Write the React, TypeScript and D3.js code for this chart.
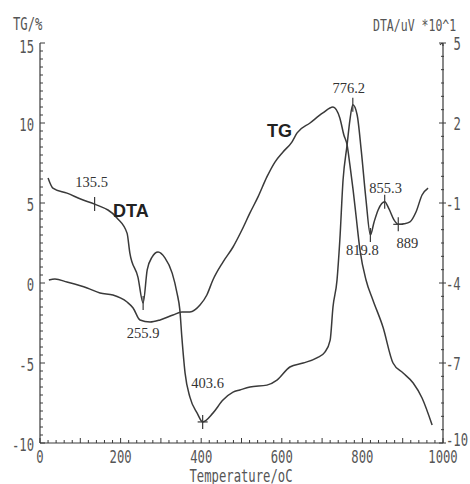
import React from "react";
import * as d3 from "d3";

// Thermal analysis of the sample: TG (mass change, left axis) and DTA (right axis)
const tempTicks = [0, 200, 400, 600, 800, 1000];
const tgTicks = [15, 10, 5, 0, -5, -10];
const dtaTicks = [5, 2, -1, -4, -7, -10];

const tgTemp = [
  22, 37, 67, 117, 149, 181, 216, 231, 248, 273, 298, 330, 352, 372, 397, 414, 429,
  454, 479, 501, 521, 541, 563, 583, 603, 625, 638, 670, 702, 727, 744, 754, 762,
  769, 777, 784, 794, 809, 826, 851, 876, 901, 926, 948, 973,
];
const tgMass = [
  0.19, 0.25, 0.06, -0.31, -0.63, -0.75, -1.19, -1.56, -2.31, -2.44, -2.31, -2.0,
  -1.81, -1.81, -1.38, -0.75, 0.19, 1.31, 2.25, 3.31, 4.38, 5.38, 6.63, 7.56, 8.19,
  8.81, 9.38, 10.0, 10.63, 11.0, 10.31, 9.25, 8.63, 7.38, 5.81, 4.25, 2.06, 0.19,
  -1.06, -2.75, -5.0, -5.63, -6.25, -7.19, -8.88,
];

const dtaTemp = [
  20, 32, 67, 107, 135.5, 191, 216, 223, 243, 255.9, 266, 278, 293, 310, 328, 340,
  347, 352, 360, 372, 390, 403.6, 429, 454, 479, 496, 521, 563, 588, 620, 653, 687,
  707, 720, 727, 737, 744, 752, 762, 769, 776.2, 787, 797, 809, 819.8, 829, 839, 848,
  855.3, 866, 878, 889, 903, 918, 933, 948, 963,
];
const dtaSignal = [
  -0.06, -0.44, -0.63, -0.89, -1.04, -1.56, -2.13, -2.88, -3.78, -4.75, -3.51, -3.03,
  -2.84, -3.06, -3.63, -4.38, -5.01, -6.03, -7.38, -8.28, -8.88, -9.21, -8.88, -8.39,
  -8.09, -8.01, -7.9, -7.83, -7.64, -7.15, -7.0, -6.81, -6.59, -6.14, -4.9, -3.89,
  -2.39, -0.14, 1.18, 2.11, 2.68, 2.3, 0.99, -0.89, -2.2, -1.71, -1.26, -1.02, -0.95,
  -1.22, -1.62, -1.8, -1.78, -1.71, -1.34, -0.7, -0.44,
];

// characteristic temperatures marked on the DTA trace
const peakTemps = [135.5, 255.9, 403.6, 776.2, 819.8, 855.3, 889];

const W = 470;
const H = 484;
const X0 = 40;
const X1 = 443;
const Y0 = 443;
const Y1 = 43;

const plotterFont = "DejaVu Sans Mono";
const ink = "#3a3a3a";
const textInk = "#555";

function PlotText(props: {
  x: number;
  y: number;
  text: string;
  anchor?: "start" | "middle" | "end";
  size?: number;
}) {
  const { x, y, text, anchor = "middle", size = 17 } = props;
  return (
    <text
      transform={`translate(${x},${y}) scale(0.72,1)`}
      textAnchor={anchor}
      fontFamily={plotterFont}
      fontSize={size}
      fill={textInk}
    >
      {text}
    </text>
  );
}

export default function App() {
  const x = d3.scaleLinear().domain([0, 1000]).range([X0, X1]);
  const yTG = d3.scaleLinear().domain([-10, 15]).range([Y0, Y1]);
  const yDTA = d3.scaleLinear().domain([-10, 5]).range([Y0, Y1]);

  const tgLine = d3
    .line<number>()
    .x((_, i) => x(tgTemp[i]))
    .y((d) => yTG(d))
    .curve(d3.curveMonotoneX);
  const dtaLine = d3
    .line<number>()
    .x((_, i) => x(dtaTemp[i]))
    .y((d) => yDTA(d))
    .curve(d3.curveMonotoneX);

  // label placement around each marked point (pixels)
  const labelOffsets: Record<string, [number, number]> = {
    "135.5": [-3, -17],
    "255.9": [0, 35],
    "403.6": [5, -34],
    "776.2": [-4, -12],
    "819.8": [-8, 20],
    "855.3": [1, -9],
    "889": [9, 24],
  };
  const crossMarks = new Set([403.6, 889]);

  const xMinor = d3.range(0, 1001, 20);
  const tgMinor = d3.range(-10, 15.01, 0.5);
  const dtaMinor = d3.range(-10, 5.01, 0.5);

  return (
    <svg
      width={W}
      height={H}
      style={{ position: "fixed", left: 0, top: 0, background: "#fff" }}
    >
      <rect width={W} height={H} fill="#fff" />

      {/* axes frame (left, bottom, right) */}
      <g stroke={ink} strokeWidth={1.2} fill="none">
        <line x1={X0} y1={Y1} x2={X0} y2={Y0} />
        <line x1={X0} y1={Y0} x2={X1} y2={Y0} />
        <line x1={X1} y1={Y1} x2={X1} y2={Y0} />
        <path d={`M${X1 - 3},${Y1 + 2} Q${X1},${Y1 - 2} ${X1},${Y1 + 3}`} />
      </g>

      {/* ticks */}
      <g stroke={ink} strokeWidth={1}>
        {xMinor.map((t) => (
          <line
            key={`xt${t}`}
            x1={x(t)}
            x2={x(t)}
            y1={Y0}
            y2={Y0 - (t % 100 === 0 ? 5 : 3)}
          />
        ))}
        {tgMinor.map((v) => (
          <line
            key={`lt${v}`}
            x1={X0}
            x2={X0 + (Math.abs(v % 5) < 1e-9 ? 5 : 3)}
            y1={yTG(v)}
            y2={yTG(v)}
          />
        ))}
        {dtaMinor.map((v) => {
          const major = dtaTicks.some((t) => Math.abs(t - v) < 1e-9);
          return (
            <line
              key={`rt${v}`}
              x1={X1 - (major ? 4 : 2)}
              x2={X1 + (major ? 3 : 1)}
              y1={yDTA(v)}
              y2={yDTA(v)}
            />
          );
        })}
      </g>

      {/* tick labels */}
      {tempTicks.map((t) => (
        <PlotText key={`xl${t}`} x={x(t)} y={Y0 + 20} text={String(t)} />
      ))}
      {tgTicks.map((v) => (
        <PlotText
          key={`ll${v}`}
          x={34}
          y={yTG(v) + (v === 15 ? 10 : 8)}
          text={String(v)}
          anchor="end"
        />
      ))}
      {dtaTicks.map((v) => (
        <PlotText
          key={`rl${v}`}
          x={X1 + 3 + (v >= 0 ? 7.5 : 0)}
          y={yDTA(v) + (v === -10 ? 3 : 7)}
          text={String(v)}
          anchor="start"
        />
      ))}

      {/* axis titles */}
      <PlotText x={13} y={30} text="TG/%" anchor="start" />
      <PlotText x={373} y={31} text="DTA/uV *10^1" anchor="start" size={16} />
      <PlotText x={241} y={482} text="Temperature/oC" />

      {/* curves */}
      <path
        d={tgLine(tgMass) ?? ""}
        fill="none"
        stroke={ink}
        strokeWidth={1.5}
        strokeLinejoin="round"
      />
      <path
        d={dtaLine(dtaSignal) ?? ""}
        fill="none"
        stroke={ink}
        strokeWidth={1.5}
        strokeLinejoin="round"
      />

      {/* marked DTA temperatures */}
      {peakTemps.map((t) => {
        const i = dtaTemp.indexOf(t);
        const px = x(t);
        const py = yDTA(dtaSignal[i]);
        const [dx, dy] = labelOffsets[String(t)];
        return (
          <g key={`pk${t}`}>
            <line x1={px} x2={px} y1={py - 7} y2={py + 7} stroke={ink} strokeWidth={1.2} />
            {crossMarks.has(t) && (
              <line x1={px - 5} x2={px + 5} y1={py} y2={py} stroke={ink} strokeWidth={1.2} />
            )}
            <text
              x={px + dx}
              y={py + dy}
              textAnchor="middle"
              fontFamily="Liberation Serif"
              fontSize={14.5}
              fill="#333"
            >
              {String(t)}
            </text>
          </g>
        );
      })}

      {/* curve names */}
      <text x={113} y={217} fontFamily="Liberation Sans" fontWeight="bold" fontSize={18} fill="#222">
        DTA
      </text>
      <text x={267} y={137} fontFamily="Liberation Sans" fontWeight="bold" fontSize={18} fill="#222">
        TG
      </text>
    </svg>
  );
}
